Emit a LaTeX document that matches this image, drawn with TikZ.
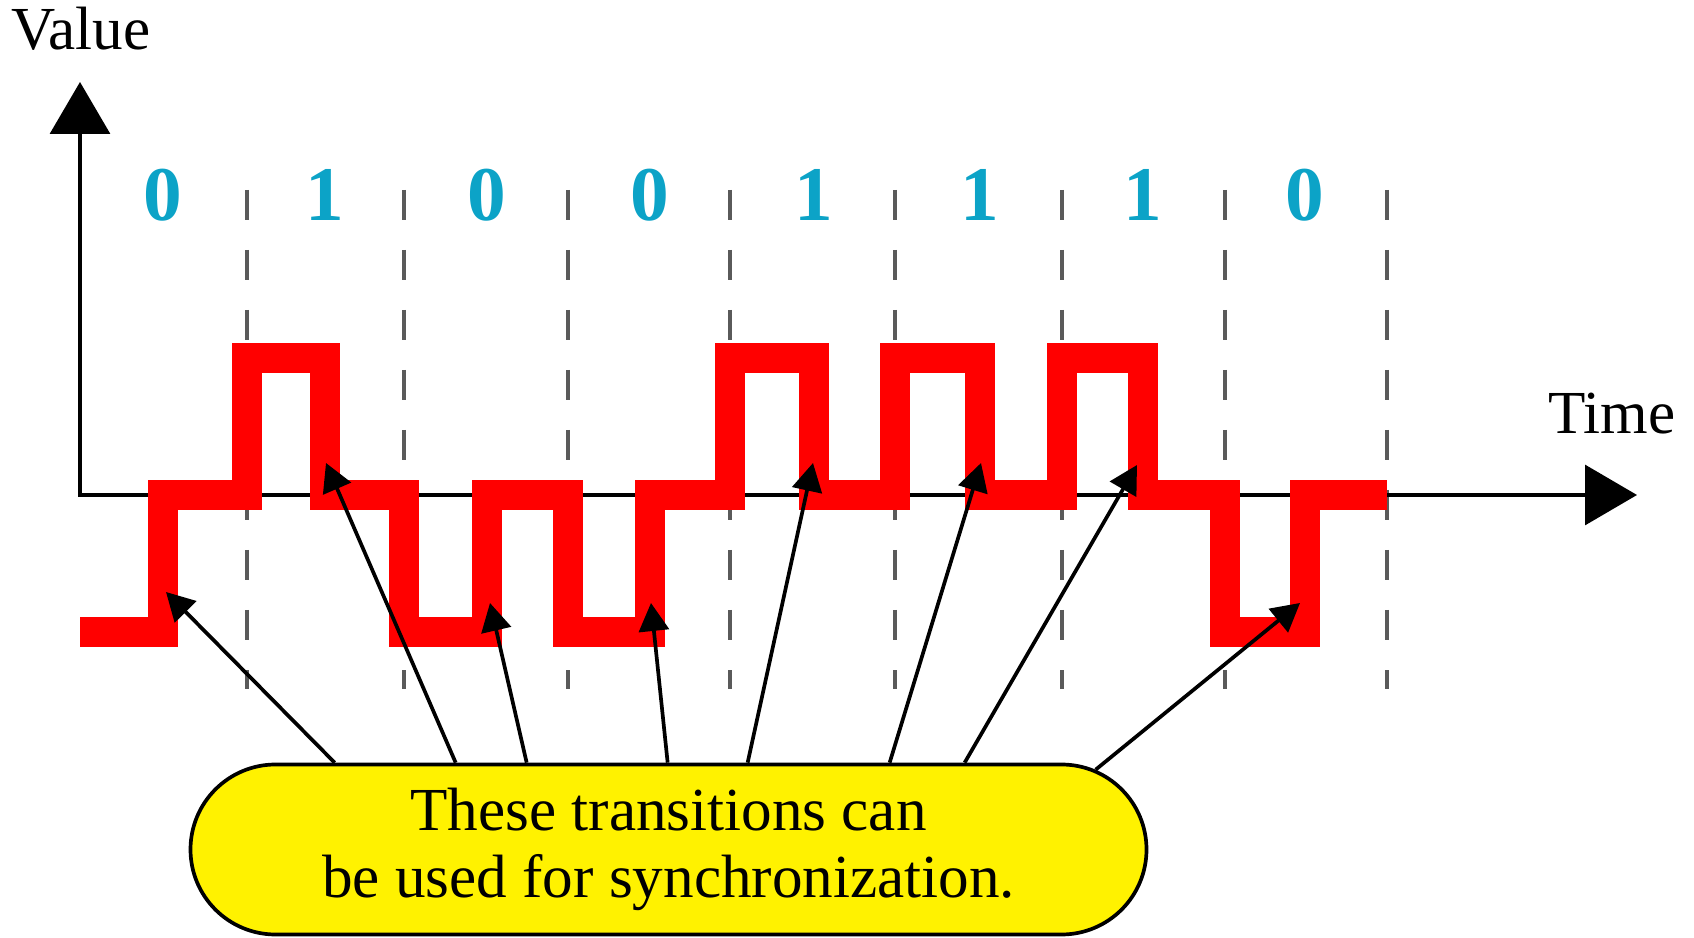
\documentclass[tikz,border=0pt]{standalone}
\usepackage{fontspec}
\setmainfont{Liberation Serif}
\usetikzlibrary{arrows.meta}
\definecolor{bitblue}{RGB}{12,163,199}
\definecolor{cellgray}{RGB}{90,90,90}
\tikzset{
  signal/.style={red,line width=0.3cm,line join=miter},
  cellline/.style={cellgray,line width=0.9pt,dash pattern=on 0.3cm off 0.3cm},
  bitlabel/.style={bitblue,font=\fontsize{22}{22}\selectfont\bfseries},
  pointer/.style={-{Triangle[length=0.28cm,width=0.30cm]},line width=1.05pt},
  note/.style={draw,line width=1.05pt,fill=yellow,rounded corners=0.85cm,
    minimum width=9.56cm,minimum height=1.70cm,align=center}
}
\begin{document}
\begin{tikzpicture}[>={Triangle[length=0.52cm,width=0.6cm]},font=\fontsize{17.4}{19}\selectfont]
    \useasboundingbox (0,0) rectangle (16.94,9.38);
    % bit cells
    \foreach \x in {2.47,4.04,5.68,7.30,8.95,10.62,12.25,13.87}
      \draw[cellline](\x,7.48)--(\x,2.49);
    \foreach \x/\b [count=\i] in {1.625/0,3.25/1,4.87/0,6.50/0,8.14/1,9.80/1,11.43/1,13.05/0}
      \node[bitlabel] (bit\i) at (\x,7.43){\b};
    % axes
    \draw[line width=0.9pt,<->](0.80,8.56)--(0.80,4.43)--(16.37,4.43);
    \node (value) [anchor=base] at (0.81,8.88){Value};
    \node (time) [anchor=base] at (16.12,5.04){Time};
    % RZ signal
    \draw[signal](0.80,3.06)--(1.625,3.06)--(1.625,4.43)--(2.47,4.43)--(2.47,5.80)
      --(3.25,5.80)--(3.25,4.43)--(4.04,4.43)--(4.04,3.06)--(4.87,3.06)--(4.87,4.43)
      --(5.68,4.43)--(5.68,3.06)--(6.50,3.06)--(6.50,4.43)--(7.30,4.43)--(7.30,5.80)
      --(8.14,5.80)--(8.14,4.43)--(8.95,4.43)--(8.95,5.80)--(9.80,5.80)--(9.80,4.43)
      --(10.62,4.43)--(10.62,5.80)--(11.43,5.80)--(11.43,4.43)--(12.25,4.43)
      --(12.25,3.06)--(13.05,3.06)--(13.05,4.43)--(13.87,4.43);
    \coordinate (t1) at (1.66,3.46);
    \coordinate (t2) at (3.26,4.75);
    \coordinate (t3) at (4.90,3.35);
    \coordinate (t4) at (6.51,3.35);
    \coordinate (t5) at (8.13,4.75);
    \coordinate (t6) at (9.81,4.75);
    \coordinate (t7) at (11.37,4.73);
    \coordinate (t8) at (13.00,3.35);
    % callout
    \node[note] (sync) at (6.685,0.885){These transitions can\\be used for synchronization.};
    \foreach \s/\t in {1.46/t1,2.67/t2,3.38/t3,4.79/t4,5.59/t5,7.01/t6,7.76/t7}
      \draw[pointer]([xshift=\s cm]sync.north west)--(\t);
    \draw[pointer]([shift={(9.07,-0.07)}]sync.north west)--(t8);
\end{tikzpicture}
\end{document}
